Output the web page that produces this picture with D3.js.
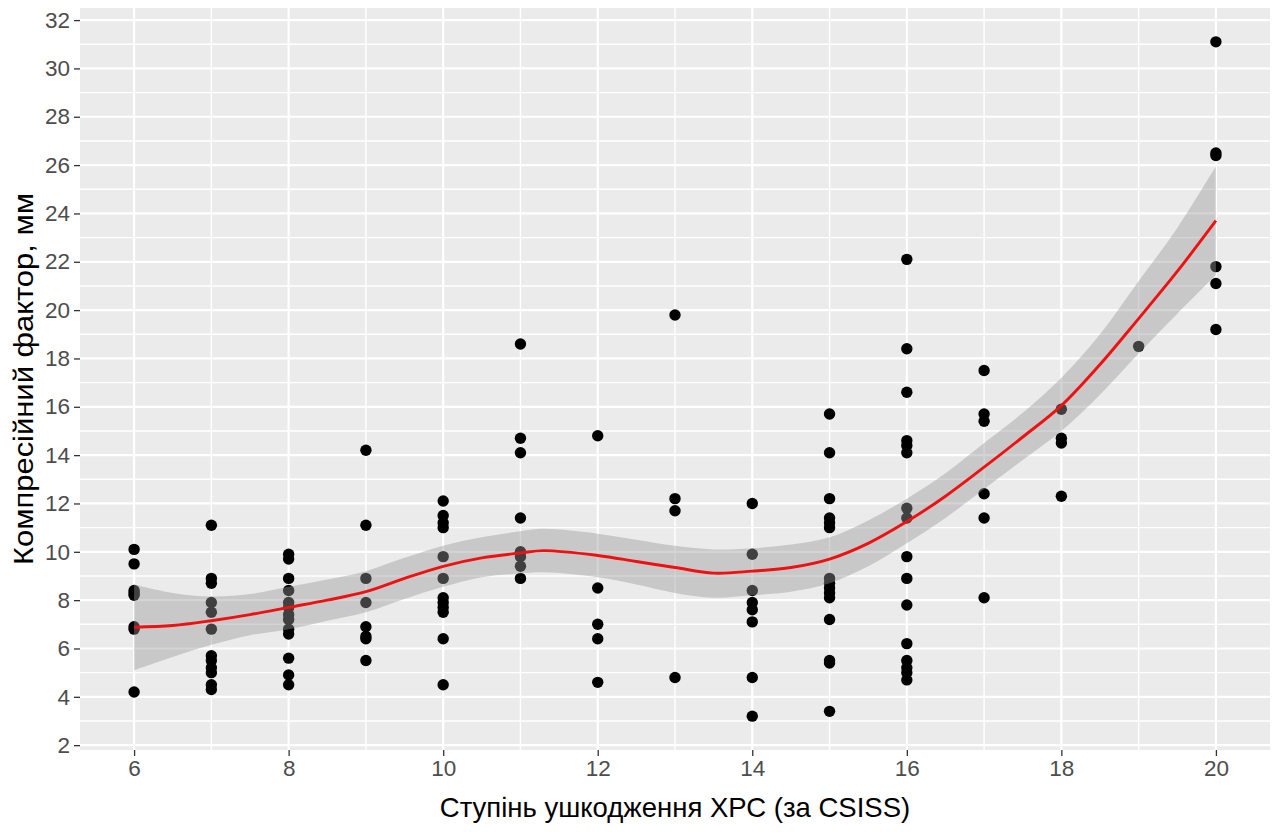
<!DOCTYPE html>
<html>
<head>
<meta charset="utf-8">
<script src="https://cdn.jsdelivr.net/npm/d3@7"></script>
<style>
  body { margin: 0; background: #ffffff; }
  text { font-family: "Liberation Sans", Arial, sans-serif; }
</style>
</head>
<body>
<svg id="chart" width="1276" height="832"></svg>
<script>
// Damage grade (CSISS) for each column of observations
const grades = [6, 7, 8, 9, 10, 11, 12, 13, 14, 15, 16, 17, 18, 19, 20];

// Compression factor, mm, observed at each grade
const compression = [
  [10.1, 9.5, 8.4, 8.3, 8.2, 6.9, 6.8, 4.2],
  [11.1, 8.9, 8.7, 7.9, 7.5, 6.8, 5.7, 5.5, 5.2, 5.0, 4.5, 4.3],
  [9.9, 9.7, 8.9, 8.4, 7.9, 7.7, 7.4, 7.2, 6.8, 6.6, 5.6, 4.9, 4.5],
  [14.2, 11.1, 8.9, 7.9, 6.9, 6.5, 6.4, 5.5],
  [12.1, 11.5, 11.2, 11.0, 9.8, 8.9, 8.1, 7.9, 7.7, 7.5, 6.4, 4.5],
  [18.6, 14.7, 14.1, 11.4, 10.0, 9.8, 9.4, 8.9],
  [14.8, 8.5, 7.0, 6.4, 4.6],
  [19.8, 12.2, 11.7, 4.8],
  [12.0, 9.9, 8.4, 7.9, 7.6, 7.1, 4.8, 3.2],
  [15.7, 14.1, 12.2, 11.4, 11.2, 11.0, 8.9, 8.7, 8.5, 8.3, 8.1, 7.2, 5.5, 5.4, 3.4],
  [22.1, 18.4, 16.6, 14.6, 14.4, 14.1, 11.8, 11.4, 9.8, 8.9, 7.8, 6.2, 5.5, 5.2, 5.0, 4.7],
  [17.5, 15.7, 15.4, 12.4, 11.4, 8.1],
  [15.9, 14.7, 14.5, 12.3],
  [18.5],
  [31.1, 26.5, 26.4, 21.8, 21.1, 19.2]
];

// Smoothed trend with its confidence band
const fitX    = [6,    6.5,  7,    7.5,  8,    8.5,  9,    9.5,  10,   10.5,  11,    11.3,  12,    12.5,  13,    13.5,  14,    14.5,  15,    15.5,  16,    16.5,  17,    17.5,  18,    18.5,  19,    19.5,  20];
const fitY    = [6.88, 6.95, 7.15, 7.4,  7.7,  8.0,  8.35, 8.9,  9.4,  9.75,  9.95,  10.05, 9.85,  9.6,   9.35,  9.12,  9.2,   9.35,  9.7,   10.35, 11.25, 12.3,  13.5,  14.75, 16.05, 17.75, 19.65, 21.6,  23.7];
const fitLow  = [5.1,  5.65, 6.15, 6.55, 6.8,  7.15, 7.5,  8.05, 8.55, 8.95,  9.1,   9.15,  8.95,  8.65,  8.3,   8.1,   8.2,   8.35,  8.7,   9.4,   10.35, 11.4,  12.6,  13.8,  15.0,  16.5,  18.2,  19.85, 21.45];
const fitHigh = [8.65, 8.3,  8.15, 8.25, 8.55, 8.85, 9.2,  9.75, 10.25, 10.6, 10.85, 10.95, 10.75, 10.5,  10.25, 10.1,  10.15, 10.3,  10.6,  11.3,  12.2,  13.25, 14.5,  15.75, 17.2,  19.0,  21.2,  23.4,  25.95];

// Tick values
const xTicks = [6, 8, 10, 12, 14, 16, 18, 20];
const yTicks = [2, 4, 6, 8, 10, 12, 14, 16, 18, 20, 22, 24, 26, 28, 30, 32];

const xLabel = "Ступінь ушкодження ХРС (за CSISS)";
const yLabel = "Компресійний фактор, мм";

const svg = d3.select("#chart");
const panel = { left: 80, right: 1270, top: 8, bottom: 750 };

const x = d3.scaleLinear().domain([5.3, 20.7]).range([panel.left, panel.right]);
const y = d3.scaleLinear().domain([1.8, 32.5]).range([panel.bottom, panel.top]);

// Panel background
svg.append("rect")
  .attr("x", panel.left).attr("y", panel.top)
  .attr("width", panel.right - panel.left)
  .attr("height", panel.bottom - panel.top)
  .attr("fill", "#ebebeb");

const grid = svg.append("g");
// Minor grid at odd values
const xMinor = d3.range(5, 22, 1).filter(v => v % 2 === 1 && v > 5.3 && v < 20.7);
const yMinor = d3.range(3, 33, 2);
grid.selectAll("line.xmin").data(xMinor).join("line")
  .attr("x1", d => x(d)).attr("x2", d => x(d))
  .attr("y1", panel.top).attr("y2", panel.bottom)
  .attr("stroke", "#ffffff").attr("stroke-width", 1.4);
grid.selectAll("line.ymin").data(yMinor).join("line")
  .attr("y1", d => y(d)).attr("y2", d => y(d))
  .attr("x1", panel.left).attr("x2", panel.right)
  .attr("stroke", "#ffffff").attr("stroke-width", 1.4);
// Major grid at tick values
grid.selectAll("line.xmaj").data(xTicks).join("line")
  .attr("x1", d => x(d)).attr("x2", d => x(d))
  .attr("y1", panel.top).attr("y2", panel.bottom)
  .attr("stroke", "#ffffff").attr("stroke-width", 2.2);
grid.selectAll("line.ymaj").data(yTicks).join("line")
  .attr("y1", d => y(d)).attr("y2", d => y(d))
  .attr("x1", panel.left).attr("x2", panel.right)
  .attr("stroke", "#ffffff").attr("stroke-width", 2.2);

// Observations
const points = [];
grades.forEach((g, i) => compression[i].forEach(v => points.push({ g, v })));
svg.append("g").selectAll("circle").data(points).join("circle")
  .attr("cx", d => x(d.g)).attr("cy", d => y(d.v))
  .attr("r", 5.7).attr("fill", "#000000");

// Confidence band, drawn over the points
const fit = fitX.map((fx, i) => ({ fx, fy: fitY[i], lo: fitLow[i], hi: fitHigh[i] }));
svg.append("path").datum(fit)
  .attr("d", d3.area().x(d => x(d.fx)).y0(d => y(d.lo)).y1(d => y(d.hi)).curve(d3.curveCatmullRom))
  .attr("fill", "#999999").attr("fill-opacity", 0.42);

// Trend line
svg.append("path").datum(fit)
  .attr("d", d3.line().x(d => x(d.fx)).y(d => y(d.fy)).curve(d3.curveCatmullRom))
  .attr("fill", "none").attr("stroke", "#ee1111").attr("stroke-width", 2.9);

// Axes
const xAxis = svg.append("g").attr("transform", `translate(0,${panel.bottom})`)
  .call(d3.axisBottom(x).tickValues(xTicks).tickSize(6).tickPadding(5).tickFormat(d3.format("d")));
const yAxis = svg.append("g").attr("transform", `translate(${panel.left},0)`)
  .call(d3.axisLeft(y).tickValues(yTicks).tickSize(6).tickPadding(4).tickFormat(d3.format("d")));
[xAxis, yAxis].forEach(a => {
  a.select(".domain").remove();
  a.selectAll(".tick line").attr("stroke", "#333333").attr("stroke-width", 1.3);
  a.selectAll(".tick text").attr("fill", "#4d4d4d").style("font-size", "22.5px")
    .style("font-family", "'Liberation Sans', Arial, sans-serif");
});
xAxis.selectAll(".tick text").attr("dy", "0.68em");

// Axis titles
svg.append("text")
  .attr("x", (panel.left + panel.right) / 2).attr("y", 817)
  .attr("text-anchor", "middle").attr("fill", "#000000")
  .style("font-size", "27.5px").text(xLabel);
svg.append("text")
  .attr("transform", `translate(33,${(panel.top + panel.bottom) / 2}) rotate(-90)`)
  .attr("text-anchor", "middle").attr("fill", "#000000")
  .attr("textLength", 372).attr("lengthAdjust", "spacingAndGlyphs")
  .style("font-size", "28px").text(yLabel);
</script>
</body>
</html>
